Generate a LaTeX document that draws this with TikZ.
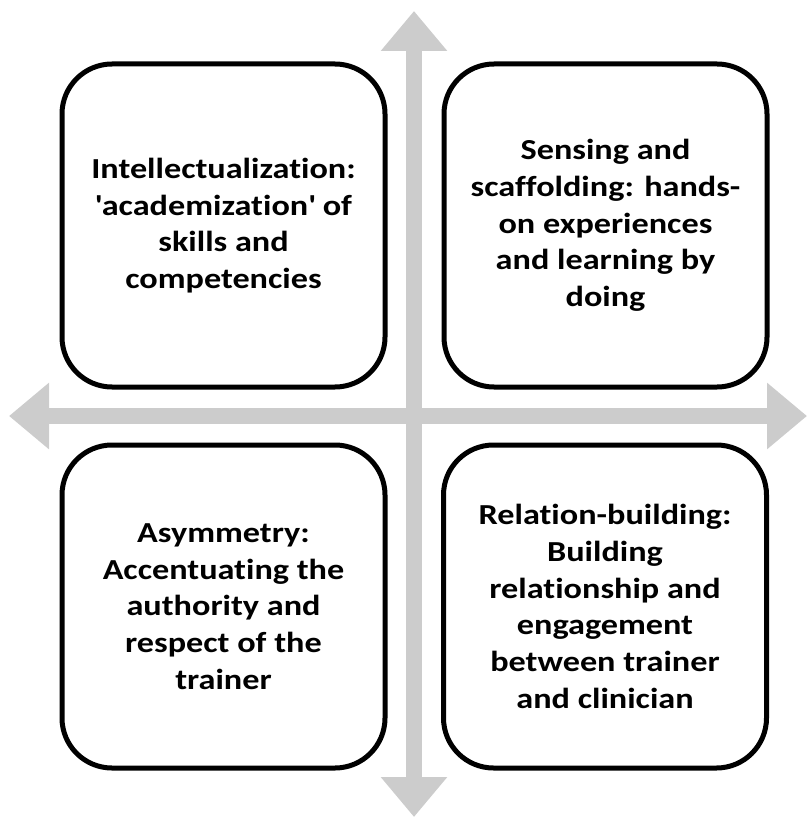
\documentclass[tikz,border=0pt]{standalone}
\usepackage{fontspec}
\setmainfont{Carlito}[Ligatures={TeX,NoCommon}, FakeStretch=1.18]
\usetikzlibrary{arrows.meta}

\tikzset{
  axis/.style={line width=16pt, draw=black!20,
    {Triangle[length=40pt,width=64pt]}-{Triangle[length=40pt,width=64pt]}},
  quadrant/.style={draw, line width=5pt, rounded corners=50pt,
    minimum width=323pt, minimum height=323pt, align=center,
    font=\fontsize{29}{36.7}\selectfont\bfseries}
}

\begin{document}
\begin{tikzpicture}[x=1pt, y=-1pt]
  \useasboundingbox (0,0) rectangle (808,818);

  % the two axes
  \coordinate (top) at (414,11);
  \coordinate (bottom) at (414,817);
  \coordinate (left) at (9,416);
  \coordinate (right) at (807,416);
  \draw[axis] (bottom) -- (top);
  \draw[axis] (left) -- (right);

  % four quadrants
  \node[quadrant] (tl) at (223.5,225.5) {Intellectualization:\\\textquotesingle academization\textquotesingle{} of\\skills and\\competencies};
  \node[quadrant] (tr) at (605.5,225.5) {Sensing and\\scaffolding: hands-\\on experiences\\and learning by\\doing};
  \node[quadrant] (bl) at (223.5,606.5) {Asymmetry:\\Accentuating the\\authority and\\respect of the\\trainer};
  \node[quadrant] (br) at (605,606.5) {Relation-building:\\Building\\relationship and\\engagement\\between trainer\\and clinician};
\end{tikzpicture}
\end{document}
